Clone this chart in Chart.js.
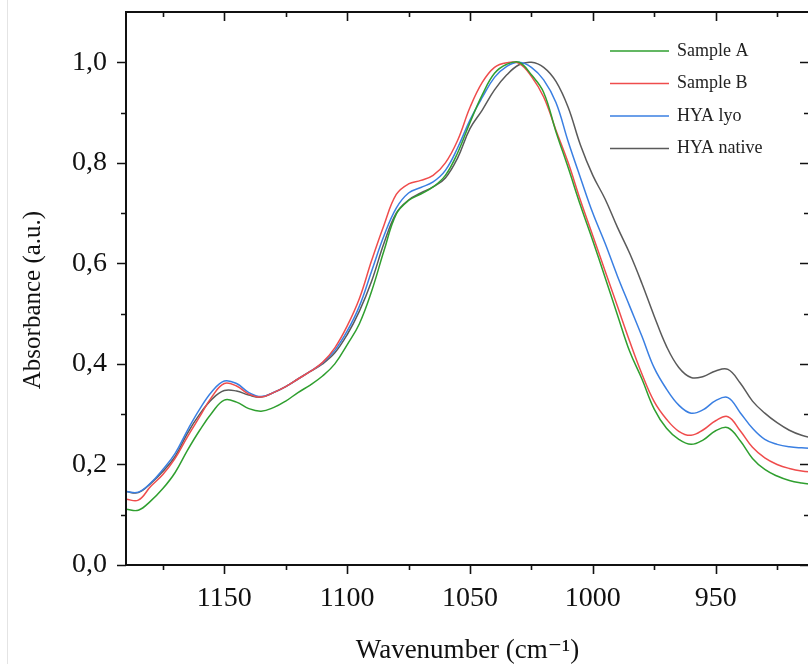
<!DOCTYPE html>
<html>
<head>
<meta charset="utf-8">
<script src="https://cdn.jsdelivr.net/npm/chart.js@4.4.1/dist/chart.umd.min.js"></script>
<style>
  html, body { margin: 0; padding: 0; background: #fff; overflow: hidden; }
  #wrap { position: relative; width: 830px; height: 664px; }
</style>
</head>
<body>
<div id="wrap"><canvas id="ftir"></canvas></div>
<script>
// ---- data ----
const wavenumbers = [1190, 1185, 1180, 1175, 1170, 1165, 1160, 1155, 1150, 1145, 1140, 1135, 1130, 1125, 1120,
    1115, 1110, 1105, 1100, 1095, 1090, 1085, 1080, 1075, 1070, 1065, 1060, 1055, 1050, 1045, 1040, 1035,
    1030, 1025, 1020, 1015, 1010, 1005, 1000, 995, 990, 985, 980, 975, 970, 965, 960, 955, 950, 945, 940,
    935, 930, 925, 920, 915, 910];

const sampleA = [0.111, 0.109, 0.127, 0.152, 0.184, 0.228, 0.268, 0.303, 0.328, 0.324, 0.311, 0.306, 0.313, 0.326, 0.343,
    0.358, 0.376, 0.400, 0.438, 0.480, 0.545, 0.625, 0.698, 0.725, 0.738, 0.752, 0.775, 0.820, 0.880, 0.935, 0.978, 0.996,
    1.000, 0.975, 0.940, 0.862, 0.790, 0.715, 0.645, 0.572, 0.498, 0.425, 0.370, 0.310, 0.272, 0.250, 0.240, 0.249, 0.267, 0.273, 0.247,
    0.212, 0.190, 0.177, 0.168, 0.163, 0.160];

const sampleB = [0.131, 0.129, 0.156, 0.180, 0.212, 0.255, 0.295, 0.335, 0.361, 0.356, 0.340, 0.334, 0.343, 0.355, 0.370,
    0.385, 0.403, 0.432, 0.475, 0.530, 0.606, 0.676, 0.737, 0.758, 0.765, 0.775, 0.800, 0.845, 0.910, 0.960, 0.990, 0.999,
    0.998, 0.972, 0.931, 0.865, 0.800, 0.725, 0.655, 0.585, 0.515, 0.445, 0.380, 0.325, 0.290, 0.266, 0.258, 0.269, 0.287, 0.295, 0.267,
    0.234, 0.213, 0.200, 0.192, 0.187, 0.185];

const hyaLyo = [0.146, 0.145, 0.163, 0.190, 0.222, 0.268, 0.310, 0.345, 0.366, 0.361, 0.343, 0.335, 0.343, 0.355, 0.370,
    0.385, 0.402, 0.427, 0.465, 0.515, 0.585, 0.655, 0.710, 0.740, 0.751, 0.762, 0.785, 0.830, 0.885, 0.930, 0.970, 0.992,
    1.000, 0.990, 0.965, 0.920, 0.842, 0.770, 0.700, 0.640, 0.575, 0.515, 0.455, 0.392, 0.350, 0.318, 0.302, 0.309, 0.327, 0.333, 0.303,
    0.272, 0.250, 0.240, 0.235, 0.233, 0.232];

const hyaNative = [0.146, 0.144, 0.162, 0.186, 0.216, 0.262, 0.300, 0.330, 0.347, 0.346, 0.338, 0.334, 0.343, 0.355, 0.370,
    0.385, 0.400, 0.422, 0.458, 0.505, 0.565, 0.640, 0.700, 0.726, 0.740, 0.752, 0.770, 0.810, 0.868, 0.905, 0.945, 0.975,
    0.995, 1.000, 0.990, 0.962, 0.910, 0.835, 0.775, 0.728, 0.672, 0.620, 0.560, 0.495, 0.435, 0.393, 0.373, 0.375, 0.386, 0.389, 0.362,
    0.326, 0.302, 0.283, 0.268, 0.258, 0.252];

const seriesNames = ["Sample A", "Sample B", "HYA lyo", "HYA native"];
const xTicks = [1150, 1100, 1050, 1000, 950];
const xMinorTicks = [1175, 1125, 1075, 1025, 975, 925];
const yTicks = [0, 0.2, 0.4, 0.6, 0.8, 1.0];
const yMinorTicks = [0.1, 0.3, 0.5, 0.7, 0.9];

// ---- helpers ----
const FONT = "'Liberation Serif', 'DejaVu Serif', serif";
const toPoints = arr => wavenumbers.map((w, i) => ({ x: w, y: arr[i] }));

const line = (label, data, color) => ({
    label,
    data: toPoints(data),
    borderColor: color,
    borderWidth: 1.5,
    pointRadius: 0,
    fill: false,
    tension: 0.4
});

// no label overhang padding, the frame is fixed by layout padding
const noPad = s => { s.paddingTop = 0; s.paddingBottom = 0; s.paddingLeft = 0; s.paddingRight = 0; };

// frame, mirrored ticks, y title, little page edge line
const framePlugin = {
    id: "framePlugin",
    afterDraw(chart) {
        const { ctx, chartArea: a, scales: { x, y } } = chart;
        ctx.save();
        ctx.strokeStyle = "#e4e4e4";
        ctx.lineWidth = 1;
        ctx.beginPath();
        ctx.moveTo(7.5, 0);
        ctx.lineTo(7.5, 664);
        ctx.stroke();

        ctx.strokeStyle = "#111";
        ctx.lineWidth = 2;
        ctx.strokeRect(a.left, a.top, a.right - a.left, a.bottom - a.top);

        ctx.lineWidth = 1.6;
        ctx.beginPath();
        const xt = (v, len) => {
            const px = Math.round(x.getPixelForValue(v)) + 0.5;
            ctx.moveTo(px, a.bottom); ctx.lineTo(px, a.bottom + len);
            ctx.moveTo(px, a.top); ctx.lineTo(px, a.top + len);
        };
        const yt = (v, len) => {
            const py = Math.round(y.getPixelForValue(v)) + 0.5;
            ctx.moveTo(a.left, py); ctx.lineTo(a.left - len, py);
            ctx.moveTo(a.right, py); ctx.lineTo(a.right - len, py);
        };
        xTicks.forEach(v => xt(v, 9));
        xMinorTicks.forEach(v => xt(v, 5));
        yTicks.forEach(v => yt(v, 9));
        yMinorTicks.forEach(v => yt(v, 5));
        ctx.stroke();

        // y axis title, sits a little below the plot middle in the figure
        ctx.translate(33, 300);
        ctx.rotate(-Math.PI / 2);
        ctx.font = "25px " + FONT;
        ctx.fillStyle = "#111";
        ctx.textAlign = "center";
        ctx.textBaseline = "middle";
        ctx.fillText("Absorbance (a.u.)", 0, 0);
        ctx.restore();
    }
};

// legend drawn as short line + label, top right inside the plot
const legendPlugin = {
    id: "legendPlugin",
    afterDraw(chart) {
        const { ctx } = chart;
        ctx.save();
        ctx.font = "18px " + FONT;
        ctx.textBaseline = "middle";
        ctx.fillStyle = "#222";
        chart.data.datasets.forEach((ds, i) => {
            const yy = 51 + i * 32.5;
            ctx.strokeStyle = ds.borderColor;
            ctx.lineWidth = 1.5;
            ctx.beginPath();
            ctx.moveTo(610, yy);
            ctx.lineTo(669, yy);
            ctx.stroke();
            ctx.fillText(ds.label, 677, yy);
        });
        ctx.restore();
    }
};

new Chart(document.getElementById("ftir"), {
    type: "line",
    data: {
        datasets: [
            line(seriesNames[0], sampleA, "#2f9f2f"),
            line(seriesNames[1], sampleB, "#ef4c4c"),
            line(seriesNames[2], hyaLyo, "#3a7fe2"),
            line(seriesNames[3], hyaNative, "#5a5a5a")
        ]
    },
    options: {
        responsive: true,
        maintainAspectRatio: false,
        animation: false,
        layout: { padding: { top: 12, right: 21, left: 0, bottom: 0 } },
        plugins: { legend: { display: false }, tooltip: { enabled: false } },
        scales: {
            x: {
                type: "linear",
                reverse: true,
                min: 912,
                max: 1190,
                afterBuildTicks: s => { s.ticks = xTicks.map(v => ({ value: v })); },
                afterFit: s => { s.height = 99; noPad(s); },
                grid: { display: false },
                border: { display: false },
                ticks: { color: "#111", font: { family: FONT, size: 28 }, padding: 9, callback: v => String(v) },
                title: { display: true, text: "Wavenumber (cm\u207B\u00B9)", color: "#111", font: { family: FONT, size: 27, lineHeight: 1.0 }, padding: { top: 0, bottom: 0 } }
            },
            y: {
                min: 0,
                max: 1.1,
                afterBuildTicks: s => { s.ticks = yTicks.map(v => ({ value: v })); },
                afterFit: s => { s.width = 126; noPad(s); },
                grid: { display: false },
                border: { display: false },
                ticks: { color: "#111", font: { family: FONT, size: 28 }, padding: 11, callback: v => v.toFixed(1).replace(".", ",") },
                title: { display: false }
            }
        }
    },
    plugins: [framePlugin, legendPlugin]
});
</script>
</body>
</html>
